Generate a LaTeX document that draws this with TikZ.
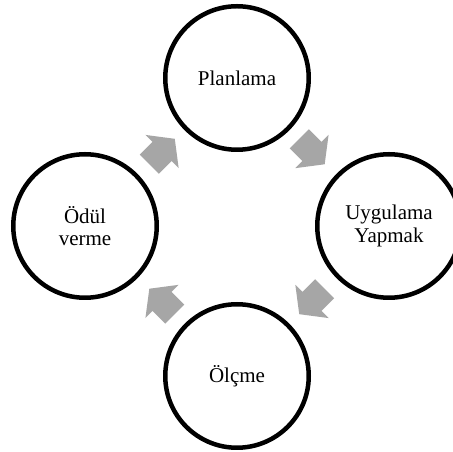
\documentclass[tikz,border=0pt]{standalone}
\usepackage{fontspec}
\setmainfont{Liberation Serif}
\usetikzlibrary{calc}
\definecolor{arrowgray}{HTML}{A6A6A6}
\begin{document}
\begin{tikzpicture}[x=1pt,y=1pt,
  stage/.style={circle, draw=black, line width=4.5pt, minimum size=143.5pt,
    inner sep=0pt, align=center, font=\fontsize{21}{22.5}\selectfont},
  cyclearrow/.pic={
    \fill[arrowgray] (-18,-13.5) -- (0,-13.5) -- (0,-23.5) -- (18,0)
      -- (0,23.5) -- (0,13.5) -- (-18,13.5) -- cycle;}
]
\clip (0,0) rectangle (453,452);
\fill[white] (0,0) rectangle (453,452);

% centre of the cycle
\coordinate (hub) at (237,225.5);

% the four stages
\node[stage] (plan) at (237,374) {Planlama};
\node[stage] (apply) at (389,226) {Uygulama\\Yapmak};
\node[stage] (measure) at (237,76) {Ölçme};
\node[stage] (reward) at (85,226) {Ödül\\verme};

% clockwise block arrows between the stages
\pic[rotate=-45] at ($(hub)+(45:106)$) {cyclearrow};
\pic[rotate=-135] at ($(hub)+(-45:106)$) {cyclearrow};
\pic[rotate=135] at ($(hub)+(-135:106)$) {cyclearrow};
\pic[rotate=45] at ($(hub)+(135:106)$) {cyclearrow};
\end{tikzpicture}
\end{document}
